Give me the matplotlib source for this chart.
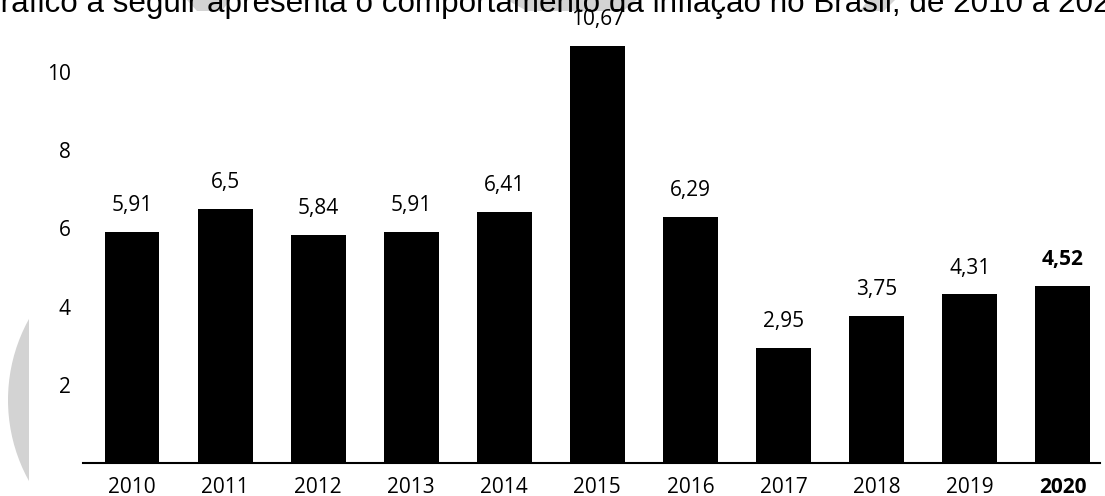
import matplotlib
matplotlib.use('Agg')
from matplotlib import pyplot as plt
from matplotlib.patches import Polygon, Circle, Rectangle

# Data
anos = ['2010', '2011', '2012', '2013', '2014', '2015', '2016', '2017', '2018', '2019', '2020']
inflacao = [5.91, 6.5, 5.84, 5.91, 6.41, 10.67, 6.29, 2.95, 3.75, 4.31, 4.52]
rotulos = ['5,91', '6,5', '5,84', '5,91', '6,41', '10,67', '6,29', '2,95', '3,75', '4,31', '4,52']
y_ticks = [2, 4, 6, 8, 10]
titulo = 'O gráfico a seguir apresenta o comportamento da inflação no Brasil, de 2010 a 2020.'

W, H = 1105, 496
fig = plt.figure(figsize=(W / 100, H / 100), dpi=100)

# background layer in pixel coordinates (watermark + cut title)
bg = fig.add_axes([0, 0, 1, 1], zorder=0)
bg.set_xlim(0, W)
bg.set_ylim(H, 0)
bg.axis('off')
gray = '#d3d3d3'
lente = Circle((175, 400), 167, color=gray, lw=0)
bg.add_patch(lente)
lente.set_clip_path(Rectangle((0, 0), 29, H, transform=bg.transData))
for pts in [[(187, 0), (230, 0), (222, 11), (197, 11)],
            [(507, 0), (637, 0), (623, 11), (527, 11)],
            [(860, 11), (884, 11), (895, 0), (868, 0)]]:
    bg.add_patch(Polygon(pts, closed=True, color=gray, lw=0))
bg.text(-50, 12, titulo, fontsize=22.6, family='Liberation Sans', color='black',
        ha='left', va='baseline')

# main chart
ax = fig.add_axes([83 / W, 33 / H, 1017 / W, 433 / H], zorder=1)
ax.patch.set_alpha(0)
x = list(range(len(anos)))
ax.bar(x, inflacao, width=0.59, color='black')
ax.set_xlim(-0.526, 10.4)
ax.set_ylim(0, 433 / 39.1)

for i, (v, r) in enumerate(zip(inflacao, rotulos)):
    peso = 'bold' if anos[i] == '2020' else 'normal'
    ax.annotate(r, (i, v), xytext=(0, 19), textcoords='offset points',
                ha='center', va='center', fontsize=15, family='Open Sans',
                fontweight=peso)

ax.set_xticks(x)
ax.set_xticklabels(anos, fontsize=15, family='Open Sans')
ax.get_xticklabels()[-1].set_fontweight('bold')
ax.set_yticks(y_ticks)
ax.set_yticklabels([str(t) for t in y_ticks], fontsize=15, family='Open Sans')
ax.tick_params(length=0)
ax.tick_params(axis='x', pad=10)
ax.tick_params(axis='y', pad=9)
for s in ['top', 'right', 'left']:
    ax.spines[s].set_visible(False)
ax.spines['bottom'].set_linewidth(1.5)

fig.savefig('out.png', dpi=100)
